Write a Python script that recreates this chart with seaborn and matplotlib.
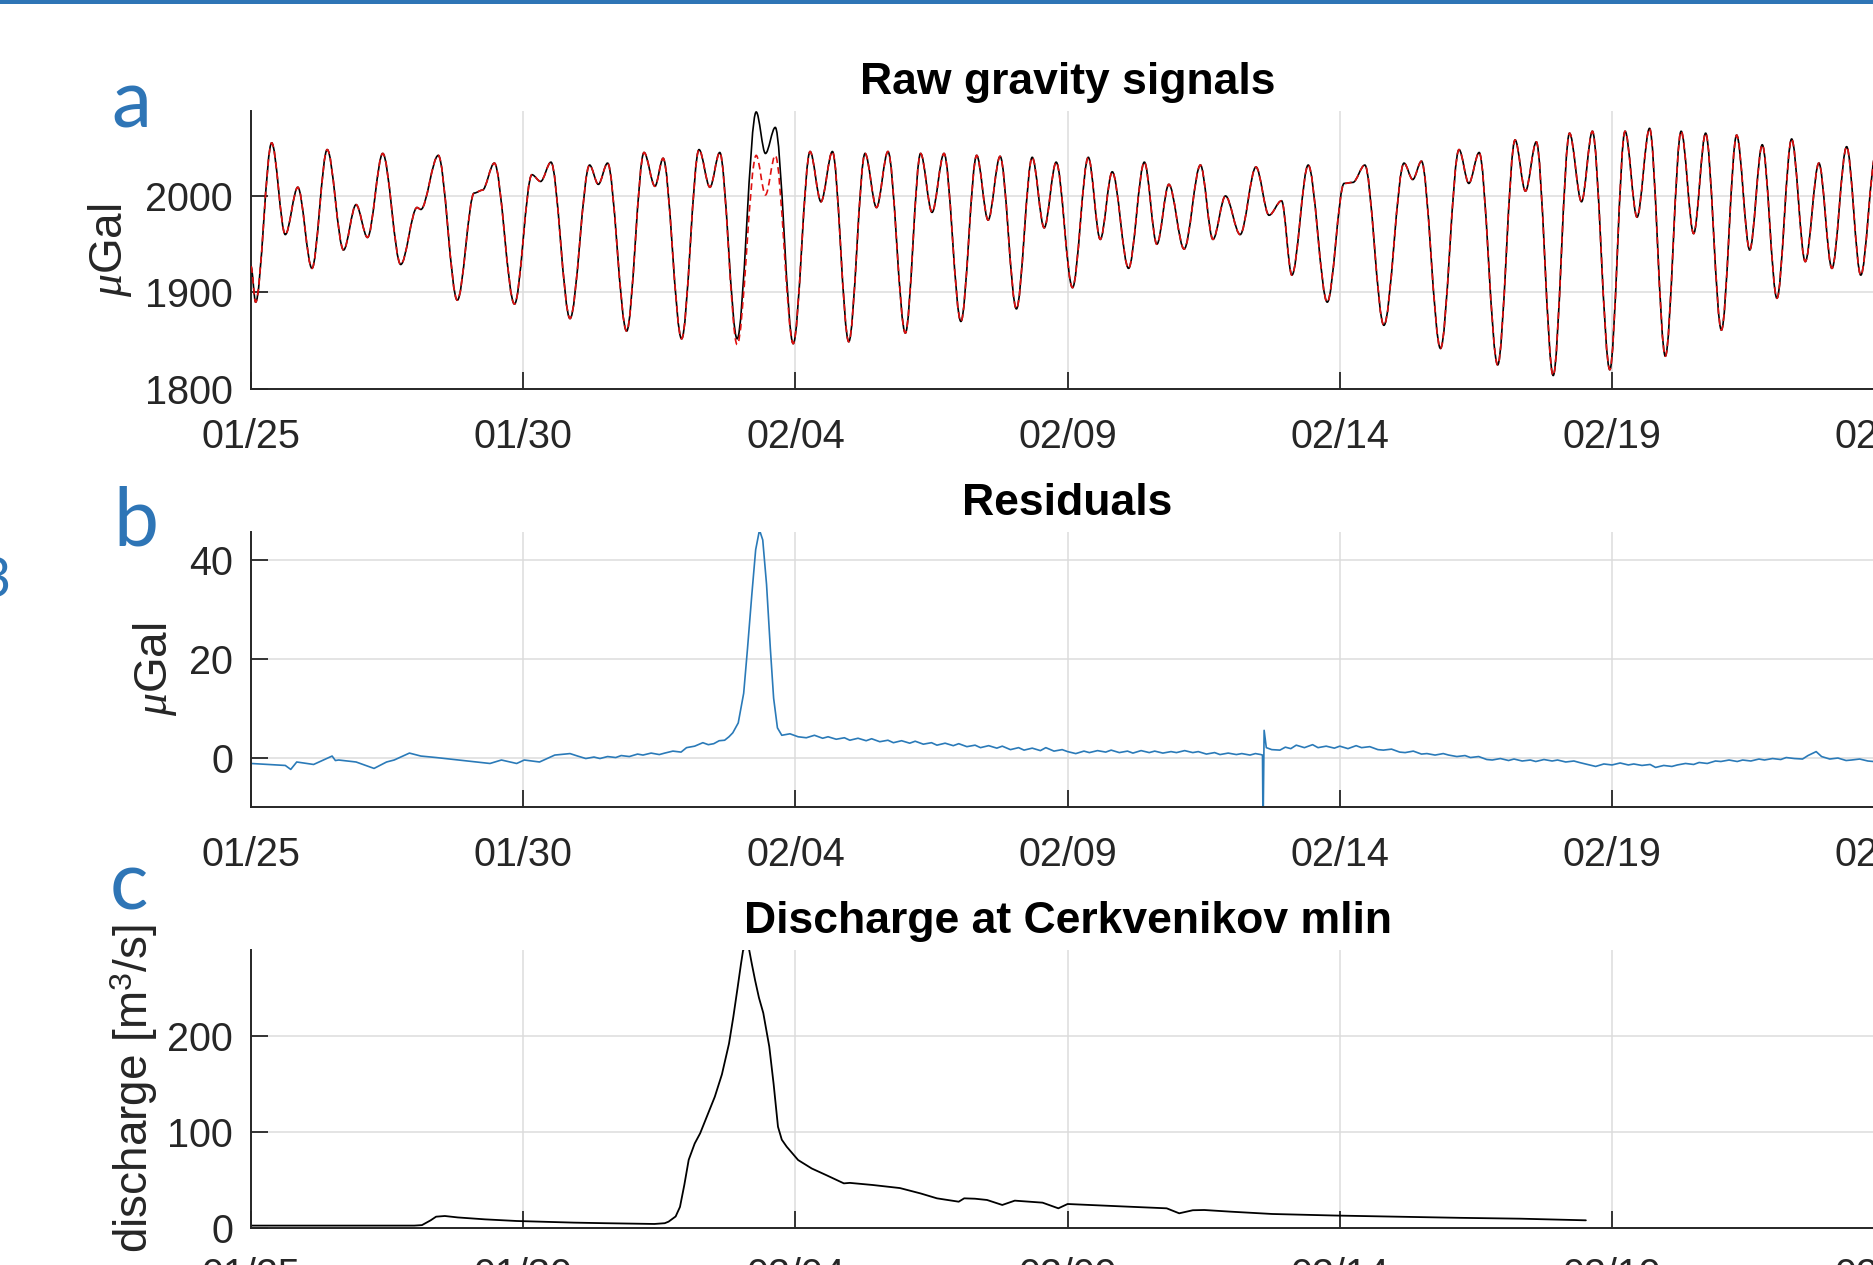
import numpy as np
import pandas as pd
import matplotlib
matplotlib.use("Agg")
import matplotlib.pyplot as plt
from matplotlib.patches import Rectangle, PathPatch
from matplotlib.path import Path
import seaborn as sns

# ---------------- data (days since 01/25 00:00) ----------------
tick_days = [0, 5, 10, 15, 20, 25, 30]
tick_labels = ["01/25", "01/30", "02/04", "02/09", "02/14", "02/19", "02/24"]

grav_day = [0.00, 0.085, 0.38, 0.63, 0.86, 1.12, 1.40, 1.70, 1.93, 2.14, 2.42, 2.75, 3.05, 3.12,
            3.44, 3.79, 4.10, 4.25, 4.47, 4.84, 5.16, 5.32, 5.51, 5.86, 6.22, 6.38, 6.55, 6.90,
            7.22, 7.42, 7.57, 7.91, 8.23, 8.43, 8.61, 8.93, 9.28, 9.45, 9.63, 9.96, 10.27, 10.47,
            10.68, 10.98, 11.28, 11.49, 11.70, 12.02, 12.30, 12.51, 12.73, 13.04, 13.33, 13.54,
            13.76, 14.06, 14.35, 14.57, 14.79, 15.09, 15.38, 15.60, 15.82, 16.12, 16.41, 16.64,
            16.86, 17.14, 17.44, 17.67, 17.90, 18.17, 18.46, 18.70, 18.93, 19.12, 19.42, 19.77,
            20.08, 20.24, 20.46, 20.81, 21.18, 21.34, 21.50, 21.85, 22.19, 22.37, 22.56, 22.90,
            23.22, 23.41, 23.61, 23.92, 24.22, 24.44, 24.64, 24.96, 25.24, 25.46, 25.69, 25.98,
            26.27, 26.50, 26.72, 27.01, 27.29, 27.53, 27.76, 28.03, 28.30, 28.55, 28.80, 29.04,
            29.31, 29.57, 29.85, 30.10]
grav_obs = [1927, 1890, 2055, 1960, 2009, 1925, 2048, 1944, 1991, 1957, 2044, 1929, 1988, 1986,
            2042, 1892, 2003, 2006, 2034, 1888, 2022, 2015, 2035, 1873, 2032, 2012, 2034, 1860,
            2045, 2010, 2039, 1852, 2048, 2009, 2045, 1852, 2087, 2044, 2071, 1847, 2046, 1994,
            2046, 1849, 2044, 1988, 2046, 1858, 2044, 1983, 2044, 1870, 2042, 1975,
            2041, 1883, 2040, 1967, 2035, 1905, 2040, 1955, 2025, 1925, 2035, 1950,
            2012, 1945, 2032, 1955, 2000, 1960, 2030, 1980, 1995, 1918, 2032, 1890,
            2013, 2014, 2032, 1866, 2034, 2017, 2036, 1842, 2048, 2013, 2045, 1825,
            2058, 2005, 2056, 1814, 2065, 1994, 2067, 1820, 2067, 1978, 2070, 1834,
            2067, 1961, 2065, 1861, 2063, 1944, 2053, 1894, 2059, 1932, 2034, 1925,
            2051, 1918, 2045, 1930]

# tidal model (red dashed) differs from the observation only here
model_diff_day = [8.93, 9.28, 9.45, 9.63]
model_diff_val = [1846, 2042, 2001, 2042]

# residuals (blue)
res_day = [0.00, 0.31, 0.63, 0.73, 0.84, 1.15, 1.49, 1.55, 1.61, 1.93, 2.26, 2.49, 2.63, 2.91,
           3.12, 3.40, 3.82, 4.39, 4.60, 4.88, 5.02, 5.30, 5.58, 5.86, 6.00, 6.15, 6.30, 6.41,
           6.55, 6.70, 6.80, 6.95, 7.10, 7.20, 7.35, 7.50, 7.60, 7.75, 7.90, 8.00, 8.15, 8.30,
           8.40, 8.50, 8.60, 8.70, 8.78, 8.85, 8.95, 9.05, 9.12, 9.20, 9.27, 9.34, 9.40, 9.47,
           9.54, 9.60, 9.67, 9.75, 9.90, 10.05, 10.20, 10.35, 10.50, 10.60, 10.75, 10.90, 11.00,
           11.15, 11.30, 11.40, 11.55, 11.70, 11.80, 11.95, 12.10, 12.20, 12.35, 12.50, 12.60,
           12.75, 12.90, 13.00, 13.15, 13.30, 13.40, 13.55, 13.70, 13.80, 13.95, 14.10, 14.20,
           14.35, 14.50, 14.60, 14.75, 14.90, 15.00, 15.15, 15.30, 15.40, 15.55, 15.70, 15.80,
           15.95, 16.10, 16.20, 16.35, 16.50, 16.60, 16.75, 16.90, 17.00, 17.15, 17.30, 17.40,
           17.55, 17.70, 17.80, 17.95, 18.10, 18.20, 18.35, 18.45, 18.55, 18.58, 18.59, 18.61,
           18.65, 18.75, 18.90, 19.00, 19.10, 19.20, 19.35, 19.50, 19.60, 19.75, 19.90, 20.00,
           20.15, 20.30, 20.40, 20.55, 20.70, 20.80, 20.95, 21.10, 21.20, 21.35, 21.50, 21.60,
           21.75, 21.90, 22.00, 22.15, 22.30, 22.40, 22.55, 22.70, 22.80, 22.95, 23.10, 23.20,
           23.35, 23.50, 23.60, 23.75, 23.90, 24.00, 24.15, 24.30, 24.40, 24.55, 24.70, 24.85,
           25.00, 25.15, 25.30, 25.40, 25.55, 25.70, 25.80, 25.95, 26.10, 26.20, 26.35, 26.50,
           26.60, 26.75, 26.90, 27.00, 27.15, 27.30, 27.40, 27.55, 27.70, 27.80, 27.95, 28.10,
           28.20, 28.35, 28.50, 28.60, 28.75, 28.85, 29.00, 29.15, 29.30, 29.40, 29.55, 29.70,
           29.80, 29.95, 30.10, 30.30]
res_val = [-1.2, -1.4, -1.6, -2.4, -0.9, -1.4, 0.3, -0.6, -0.5, -0.9, -2.2, -0.9, -0.5, 0.9,
           0.3, 0.0, -0.5, -1.2, -0.5, -1.2, -0.5, -0.9, 0.5, 0.8, 0.3, -0.2, 0.1, -0.2,
           0.2, 0.0, 0.4, 0.2, 0.7, 0.5, 0.9, 0.6, 0.9, 1.3, 1.1, 2.0, 2.3, 3.0,
           2.6, 2.8, 3.4, 3.5, 4.2, 5.0, 7.0, 13.0, 22.0, 33.0, 42.0, 46.0, 44.0, 35.0,
           22.0, 12.0, 6.0, 4.5, 4.8, 4.2, 4.0, 4.5, 3.9, 4.2, 3.7, 4.0, 3.5,
           3.9, 3.4, 3.8, 3.2, 3.5, 3.0, 3.4, 2.9, 3.3, 2.7, 3.0, 2.5,
           2.9, 2.4, 2.8, 2.2, 2.5, 2.0, 2.4, 1.9, 2.3, 1.6, 2.0, 1.5,
           1.9, 1.4, 2.0, 1.3, 1.6, 1.2, 0.8, 1.3, 1.0, 1.4, 1.1, 1.5,
           1.0, 1.3, 0.9, 1.4, 1.0, 1.3, 0.9, 1.2, 1.0, 1.4, 1.0, 1.2,
           0.7, 1.0, 0.6, 0.9, 0.6, 0.8, 0.5, 0.8, 0.6, 0.5, -15.0, 5.5,
           2.0, 1.6, 1.5, 2.1, 1.8, 2.5, 2.0, 2.6, 2.0, 2.3, 1.9, 2.3,
           1.8, 2.4, 2.0, 2.2, 1.6, 1.5, 1.7, 1.1, 1.0, 1.3, 0.7, 0.8,
           0.5, 0.8, 0.5, 0.2, 0.4, 0.0, 0.2, -0.4, -0.5, -0.2, -0.6, -0.3,
           -0.7, -0.5, -0.8, -0.4, -0.7, -0.5, -0.9, -0.7, -1.0, -1.4, -1.8, -1.3,
           -1.5, -1.1, -1.5, -1.3, -1.6, -1.4, -2.0, -1.6, -1.8, -1.5, -1.2, -1.4,
           -1.0, -1.2, -0.7, -0.8, -0.5, -0.8, -0.5, -0.7, -0.3, -0.5, -0.2, -0.4,
           0.0, -0.2, -0.3, 0.4, 1.2, 0.2, -0.3, -0.1, -0.6, -0.5, -0.3, -0.7,
           -0.8, -0.5, -0.9, -1.0]

# discharge (black)
q_day = [0.00, 1.00, 2.00, 3.00, 3.14, 3.30, 3.40, 3.56, 3.80, 4.30, 4.88, 5.93, 6.50, 7.41,
         7.60, 7.67, 7.80, 7.88, 7.96, 8.04, 8.15, 8.25, 8.52, 8.65, 8.78, 8.86, 8.94, 9.00,
         9.04, 9.10, 9.15, 9.20, 9.26, 9.33, 9.41, 9.52, 9.60, 9.68, 9.75, 9.84, 10.05, 10.30,
         10.57, 10.89, 11.00, 11.42, 11.92, 12.30, 12.60, 13.00, 13.10, 13.30, 13.52, 13.80,
         14.03, 14.54, 14.83, 15.00, 16.00, 16.82, 17.05, 17.30, 17.51, 18.00, 18.76, 19.90,
         21.04, 22.20, 23.32, 24.52]
q_val = [2.5, 2.5, 2.5, 2.5, 3.0, 8.0, 11.8, 12.5, 11.0, 9.0, 7.3, 5.6, 5.0, 4.2,
         5.0, 6.6, 12.0, 22.0, 45.0, 71.0, 88.0, 98.6, 136.8, 160.0, 192.0, 220.0, 251.0, 275.0,
         289.6, 292.0, 290.0, 275.0, 258.0, 240.0, 224.0, 189.0, 150.0, 105.5, 92.0, 84.7, 70.8, 62.0,
         55.0, 46.5, 47.0, 44.8, 41.6, 36.0, 30.9, 27.4, 30.9, 30.5, 29.2, 24.0,
         28.5, 26.4, 20.5, 25.0, 22.5, 20.5, 15.3, 18.5, 18.75, 17.0, 14.6, 13.0,
         11.8, 10.6, 9.7, 8.0]

# ---------------- build tables ----------------
obs_df = pd.DataFrame({"day": grav_day, "value": grav_obs})
model_vals = list(grav_obs)
for d, v in zip(model_diff_day, model_diff_val):
    model_vals[grav_day.index(d)] = v
model_df = pd.DataFrame({"day": grav_day, "value": model_vals})
res_df = pd.DataFrame({"day": res_day, "value": res_val})
q_df = pd.DataFrame({"day": q_day, "value": q_val})

# ---------------- styling ----------------
sns.set_theme(style="white")
plt.rcParams["font.family"] = ["Liberation Sans", "DejaVu Sans"]
plt.rcParams["mathtext.fontset"] = "custom"
plt.rcParams["mathtext.rm"] = "Liberation Sans"
plt.rcParams["mathtext.it"] = "Liberation Serif:italic"

W, H = 1873, 1265
fig = plt.figure(figsize=(W / 100, H / 100), dpi=100)
fig.patch.set_facecolor("white")

PX_PER_DAY = 54.44
XMAX = 30.0
AX_L = 251
AX_R = AX_L + XMAX * PX_PER_DAY


def add_ax(top, bottom):
    return fig.add_axes([AX_L / W, 1 - bottom / H, (AX_R - AX_L) / W, (bottom - top) / H])


ax_a = add_ax(111, 389)
ax_b = add_ax(532, 807)
ax_c = add_ax(950, 1228)

TICK_FS = 28.5
TITLE_FS = 32
YLAB_FS = 33
DARK = "#262626"
BLUE = "#2E75B6"


def tidal_curve(df, ax, **kw):
    """Smooth curve through the turning points (horizontal tangent at each one),
    drawn in data coordinates of the axes."""
    d = df["day"].to_numpy()
    v = df["value"].to_numpy()
    verts = [(d[0], v[0])]
    codes = [Path.MOVETO]
    for i in range(1, len(d)):
        step = (d[i] - d[i - 1]) / 3.0
        verts += [(d[i - 1] + step, v[i - 1]), (d[i] - step, v[i]), (d[i], v[i])]
        codes += [Path.CURVE4] * 3
    ax.add_patch(PathPatch(Path(verts, codes), fill=False, **kw))


tidal_curve(obs_df, ax_a, edgecolor="black", lw=1.2, zorder=3)
tidal_curve(model_df, ax_a, edgecolor="#e01010", lw=1.2, linestyle=(0, (4, 2.5)), zorder=4)
sns.lineplot(data=res_df, x="day", y="value", ax=ax_b, color="#2a7ab8", lw=1.2,
             estimator=None, sort=False)
sns.lineplot(data=q_df, x="day", y="value", ax=ax_c, color="black", lw=1.3,
             estimator=None, sort=False)

setup = [
    (ax_a, (1800, 2088), [1800, 1900, 2000], "Raw gravity signals", "$\\mu$Gal", 134),
    (ax_b, (-10, 45.6), [0, 20, 40], "Residuals", "$\\mu$Gal", 179),
    (ax_c, (0, 289.6), [0, 100, 200], "Discharge at Cerkvenikov mlin", "discharge [m$^3$/s]", 160),
]
for ax, ylim, yt, title, ylab, lab_right in setup:
    ax.set_xlim(0, XMAX)
    ax.set_ylim(*ylim)
    ax.set_xticks(tick_days)
    ax.set_xticklabels(tick_labels)
    ax.set_yticks(yt)
    ax.set_yticklabels([str(v) for v in yt])
    ax.grid(True, color="#dcdcdc", lw=1.1)
    ax.set_axisbelow(True)
    for s in ["top", "right"]:
        ax.spines[s].set_visible(False)
    for s in ["left", "bottom"]:
        ax.spines[s].set_color(DARK)
        ax.spines[s].set_linewidth(1.4)
    ax.tick_params(axis="x", direction="in", length=12, width=1.3, colors=DARK,
                   labelsize=TICK_FS, pad=21, bottom=True, top=False)
    ax.tick_params(axis="y", direction="in", length=12, width=1.3, colors=DARK,
                   labelsize=TICK_FS, pad=13, left=True, right=False)
    ax.set_xlabel("")
    ax.set_ylabel(ylab, fontsize=YLAB_FS, color=DARK)
    ax.yaxis.set_label_coords((lab_right - AX_L) / (AX_R - AX_L), 0.5)
    ax.set_title(title, fontsize=TITLE_FS, fontweight="bold", color="black", pad=12.5)

# slide decorations
fig.add_artist(Rectangle((0, 1 - 4 / H), 1, 4 / H, transform=fig.transFigure,
                         color=BLUE, lw=0))
fig.text(111 / W, 1 - 128 / H, "a", fontsize=58, color=BLUE, family="Lato",
         ha="left", va="baseline")
fig.text(113 / W, 1 - 546 / H, "b", fontsize=58, color=BLUE, family="Lato",
         ha="left", va="baseline")
fig.text(110 / W, 1 - 910 / H, "c", fontsize=58, color=BLUE, family="Lato",
         ha="left", va="baseline")
fig.text(11 / W, 1 - 597 / H, "3", fontsize=40, color=BLUE, family="Lato",
         ha="right", va="baseline")

fig.savefig("out.png", dpi=100)
